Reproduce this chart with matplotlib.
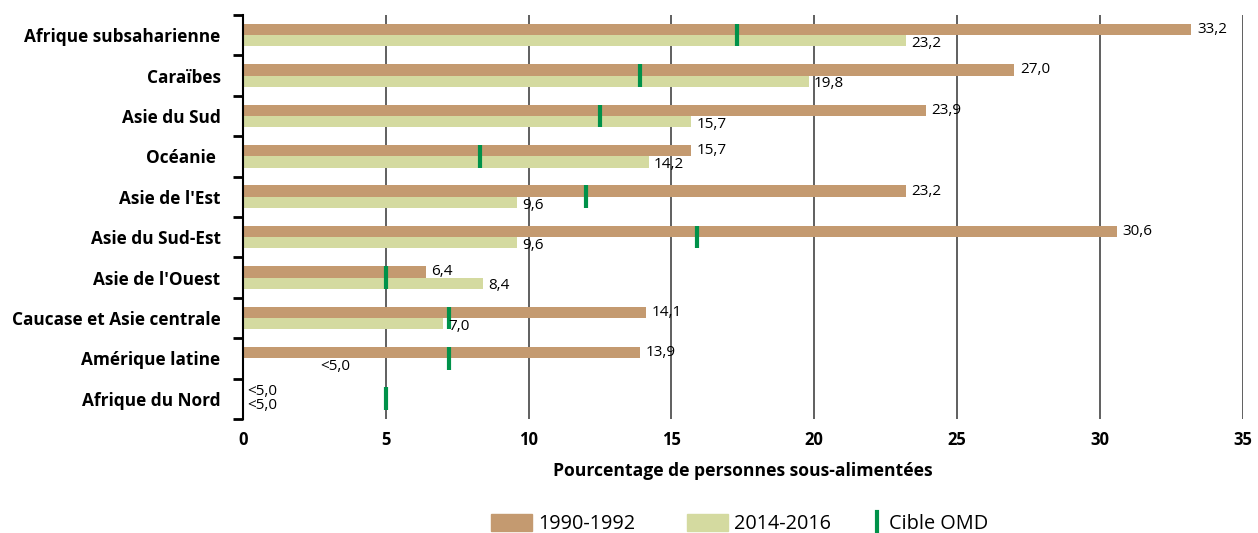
import numpy as np
import matplotlib
matplotlib.use('Agg')
import matplotlib.pyplot as plt
from matplotlib.patches import Patch
from matplotlib.lines import Line2D
from matplotlib.legend_handler import HandlerBase

plt.rcParams['font.family'] = ['Open Sans', 'DejaVu Sans']

# Data
regions = ['Afrique subsaharienne', 'Caraïbes', 'Asie du Sud', 'Océanie ',
           "Asie de l'Est", 'Asie du Sud-Est', "Asie de l'Ouest",
           'Caucase et Asie centrale', 'Amérique latine', 'Afrique du Nord']
val_1990 = [33.2, 27.0, 23.9, 15.7, 23.2, 30.6, 6.4, 14.1, 13.9, np.nan]
val_2014 = [23.2, 19.8, 15.7, 14.2, 9.6, 9.6, 8.4, 7.0, np.nan, np.nan]
lab_1990 = ['33,2', '27,0', '23,9', '15,7', '23,2', '30,6', '6,4', '14,1', '13,9', '<5,0']
lab_2014 = ['23,2', '19,8', '15,7', '14,2', '9,6', '9,6', '8,4', '7,0', '<5,0', '<5,0']
target = [17.3, 13.9, 12.5, 8.3, 12.0, 15.9, 5.0, 7.2, 7.2, 5.0]

brown = '#C49A70'
lgreen = '#D4DAA0'
dgreen = '#00924A'


class VLineHandler(HandlerBase):
    # green vertical stroke at the right end of the legend handle box
    def create_artists(self, legend, orig_handle, xdescent, ydescent,
                       width, height, fontsize, trans):
        x = width - xdescent - 1.5
        line = Line2D([x, x], [-ydescent - 1, height - ydescent + 1],
                      color=dgreen, linewidth=3, transform=trans)
        return [line]


fig = plt.figure(figsize=(12.58, 5.33), dpi=100)
ax = fig.add_axes([0.193, 0.214, 0.795, 0.758])

y = np.arange(len(regions))
h = 0.28

ax.barh(y - h / 2, val_1990, height=h, color=brown, zorder=2)
ax.barh(y + h / 2, val_2014, height=h, color=lgreen, zorder=2)
ax.vlines(target, y - h, y + h, colors=dgreen, linewidth=3, zorder=4)

# value labels
fs_val = 11
for i in range(len(regions)):
    v1, v2 = val_1990[i], val_2014[i]
    if np.isnan(v1):
        ax.annotate(lab_1990[i], (0, y[i] - h / 2), xytext=(3, 1), textcoords='offset points',
                    va='center', ha='left', fontsize=fs_val, zorder=5)
    else:
        ax.annotate(lab_1990[i], (v1, y[i] - h / 2), xytext=(4, 0), textcoords='offset points',
                    va='center', ha='left', fontsize=fs_val, zorder=5)
    if np.isnan(v2):
        if np.isnan(v1):
            ax.annotate(lab_2014[i], (0, y[i] + h / 2), xytext=(3, -1), textcoords='offset points',
                        va='center', ha='left', fontsize=fs_val, zorder=5)
        else:
            ax.annotate(lab_2014[i], (2.7, y[i] + h / 2), xytext=(0, -2), textcoords='offset points',
                        va='center', ha='left', fontsize=fs_val, zorder=5)
    else:
        ax.annotate(lab_2014[i], (v2, y[i] + h / 2), xytext=(4, -2), textcoords='offset points',
                    va='center', ha='left', fontsize=fs_val, zorder=5)

ax.set_xlim(0, 35)
ax.set_ylim(len(regions) - 0.5, -0.5)
ax.set_xticks(range(0, 36, 5))
ax.set_yticks(y)
ax.set_yticklabels(regions, fontsize=12.4, fontweight='bold')
ax.set_yticks(np.arange(-0.5, len(regions), 1), minor=True)
ax.tick_params(axis='y', which='major', length=0, pad=16)
ax.tick_params(axis='y', which='minor', length=7, width=2, direction='out')
ax.tick_params(axis='x', length=0, pad=9, labelsize=12)
for t in ax.get_xticklabels():
    t.set_fontweight('bold')

ax.grid(axis='x', color='#444444', linewidth=1.2, zorder=1)
ax.set_axisbelow(True)
for s in ['top', 'right', 'bottom']:
    ax.spines[s].set_visible(False)
ax.spines['left'].set_linewidth(1.5)
ax.spines['left'].set_zorder(6)

ax.set_xlabel('Pourcentage de personnes sous-alimentées', fontsize=12.6, fontweight='bold', labelpad=9)

# legend: two bar swatches, then the target marker
fs_leg = 14.3
bar_handles = [Patch(color=brown, label='1990-1992'),
               Patch(color=lgreen, label='2014-2016')]
leg1 = fig.legend(handles=bar_handles, loc='center left', bbox_to_anchor=(0.3903, 0.017), ncol=2,
                  frameon=False, fontsize=fs_leg, handlelength=2.06, handleheight=1.0,
                  handletextpad=0.3, columnspacing=2.62, borderpad=0, borderaxespad=0)
target_handle = Line2D([], [], color=dgreen, label='Cible OMD')
fig.legend(handles=[target_handle], loc='center left', bbox_to_anchor=(0.6895, 0.017),
           frameon=False, fontsize=fs_leg, handlelength=0.6, handleheight=1.0,
           handletextpad=0.5, borderpad=0, borderaxespad=0,
           handler_map={target_handle: VLineHandler()})

fig.savefig('out.png', dpi=100)
